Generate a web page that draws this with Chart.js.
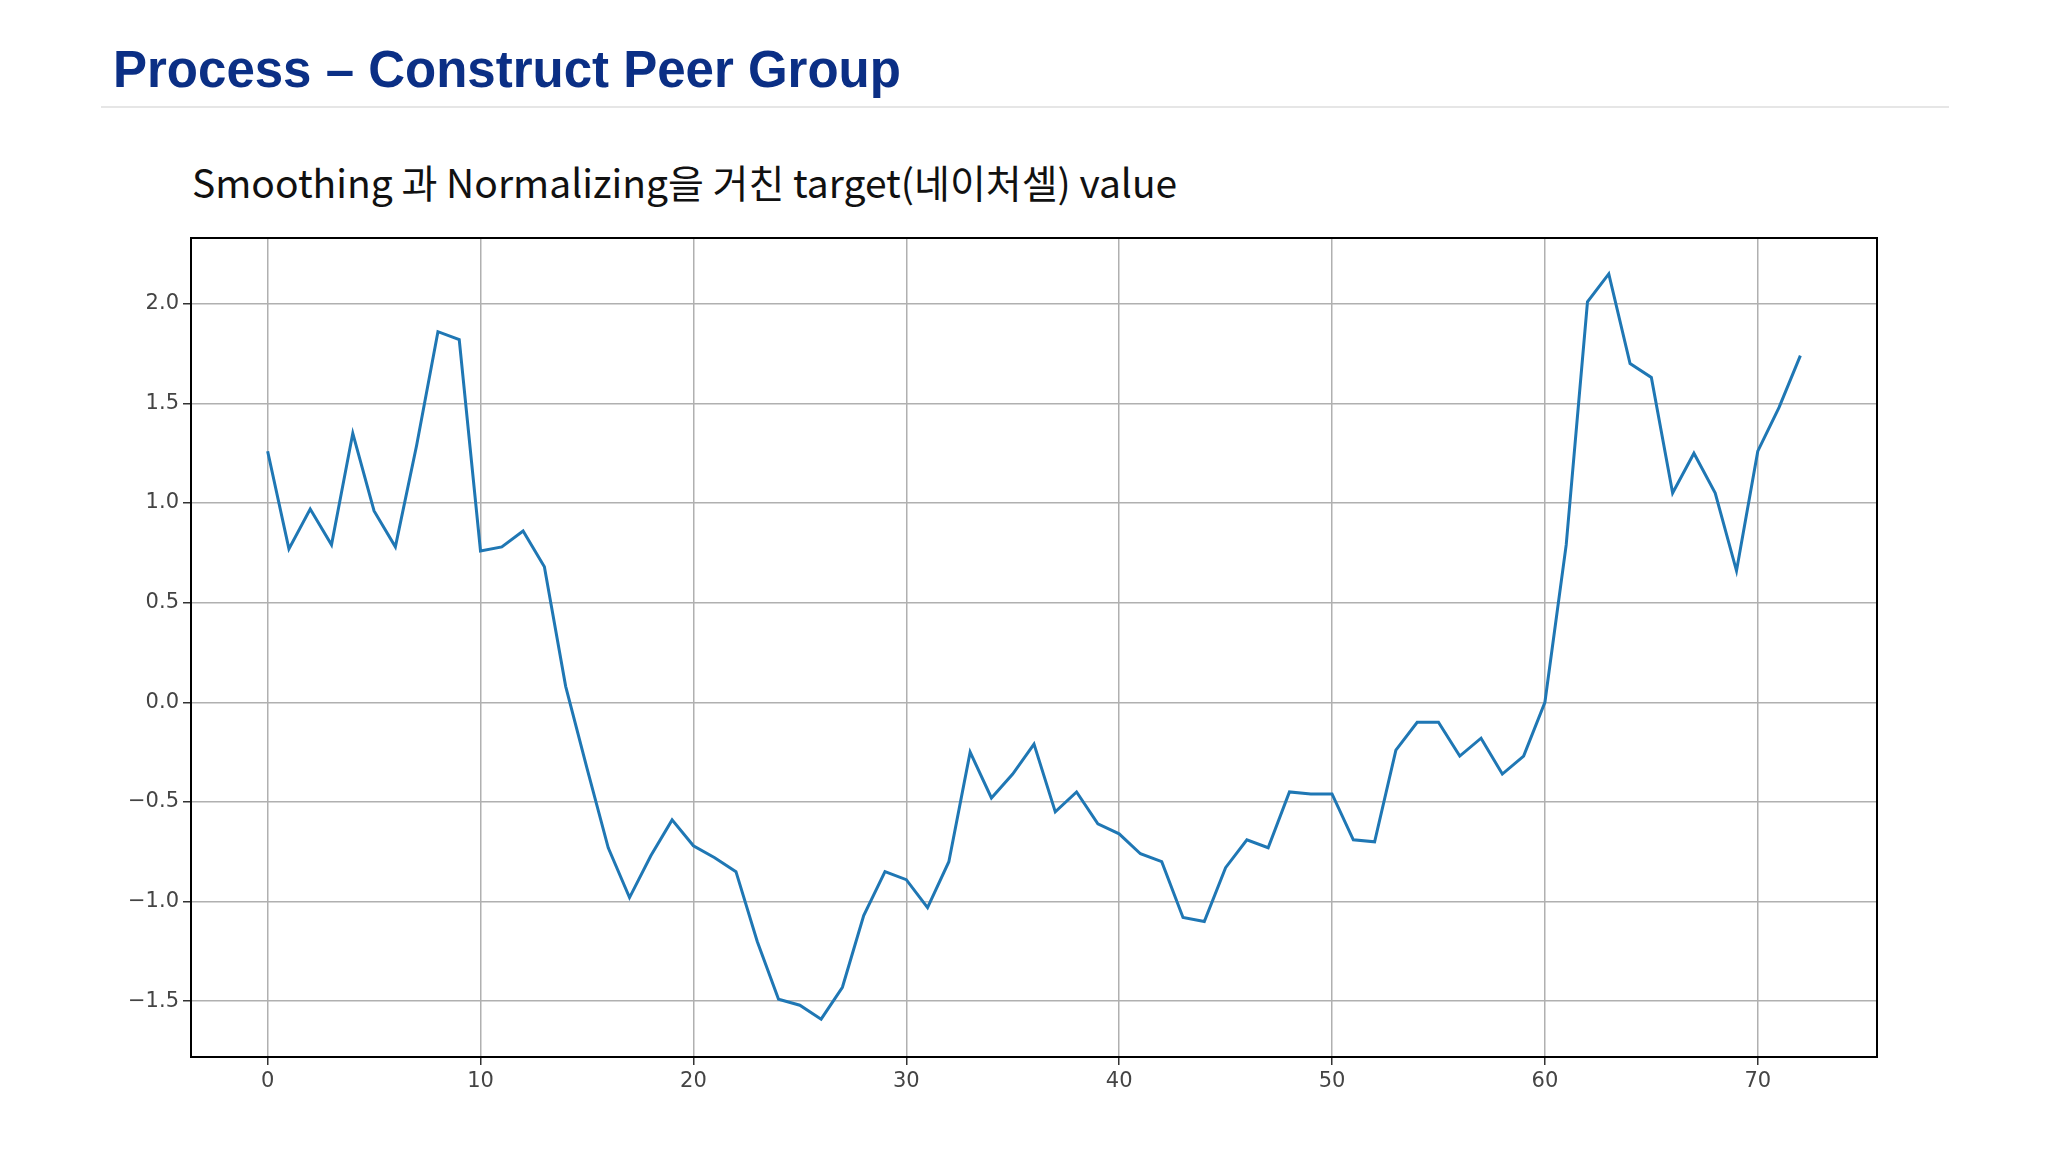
<!DOCTYPE html>
<html><head><meta charset="utf-8">
<script src="https://cdn.jsdelivr.net/npm/chart.js@4"></script>
<style>
body{margin:0;width:2048px;height:1152px;background:#fff;position:relative;overflow:hidden}
#t{position:absolute;left:113px;top:40px;font:bold 51px "Liberation Sans",Arial,sans-serif;color:#0b2f85}
#r{position:absolute;left:101px;top:106px;width:1848px;height:2px;background:#e6e6e6}
#s{position:absolute;left:192px;top:153px;font:39px "Noto Sans CJK KR","Noto Sans",sans-serif;color:#111}
canvas{position:absolute;left:0;top:0}
</style></head><body>
<div id="t">Process – Construct Peer Group</div>
<div id="r"></div>
<div id="s">Smoothing 과 Normalizing을 거친 target(네이처셀) value</div>
<canvas id="c" width="2048" height="1152"></canvas>
<script>
const xValues=[...Array(73).keys()];
const values=[1.26,0.77,0.97,0.79,1.35,0.96,0.78,1.29,1.86,1.82,0.76,0.78,0.86,0.68,0.08,-0.33,-0.73,-0.98,-0.77,-0.59,-0.72,-0.78,-0.85,-1.2,-1.49,-1.52,-1.59,-1.43,-1.07,-0.85,-0.89,-1.03,-0.80,-0.25,-0.48,-0.36,-0.21,-0.55,-0.45,-0.61,-0.66,-0.76,-0.80,-1.08,-1.10,-0.83,-0.69,-0.73,-0.45,-0.46,-0.46,-0.69,-0.70,-0.24,-0.10,-0.10,-0.27,-0.18,-0.36,-0.27,0.0,0.79,2.01,2.15,1.70,1.63,1.05,1.25,1.05,0.66,1.26,1.48,1.74];
const xTicks=[0,10,20,30,40,50,60,70];
const yTicks=[-1.5,-1.0,-0.5,0.0,0.5,1.0,1.5,2.0];
const frame={id:'frame',afterDraw(c){const a=c.chartArea,x=c.ctx;x.save();x.strokeStyle='#000';x.lineWidth=2;x.strokeRect(a.left,a.top,a.right-a.left,a.bottom-a.top);x.restore();}};
new Chart(document.getElementById('c'),{type:'line',
data:{datasets:[{data:xValues.map((v,i)=>({x:v,y:values[i]})),borderColor:'#1f77b4',borderWidth:3,pointRadius:0,tension:0}]},
options:{responsive:false,animation:false,plugins:{legend:{display:false},tooltip:{enabled:false}},
layout:{padding:{left:111,top:238,right:171,bottom:35}},
scales:{
x:{type:'linear',min:-3.6,max:75.6,afterBuildTicks:s=>{s.ticks=xTicks.map(v=>({value:v}))},afterFit:s=>{s.height=60},
grid:{color:'#b0b0b0',lineWidth:1.5,tickLength:8,tickColor:'#333'},border:{display:false},
ticks:{color:'#444',font:{family:'DejaVu Sans',size:21},padding:4,maxRotation:0,callback:v=>String(v)}},
y:{min:-1.78,max:2.33,afterBuildTicks:s=>{s.ticks=yTicks.map(v=>({value:v}))},afterFit:s=>{s.width=80},
grid:{color:'#b0b0b0',lineWidth:1.5,tickLength:8,tickColor:'#333'},border:{display:false},
ticks:{color:'#444',font:{family:'DejaVu Sans',size:21},padding:4,callback:v=>v.toFixed(1).replace('-','−')}}}},
plugins:[frame]});
</script></body></html>
